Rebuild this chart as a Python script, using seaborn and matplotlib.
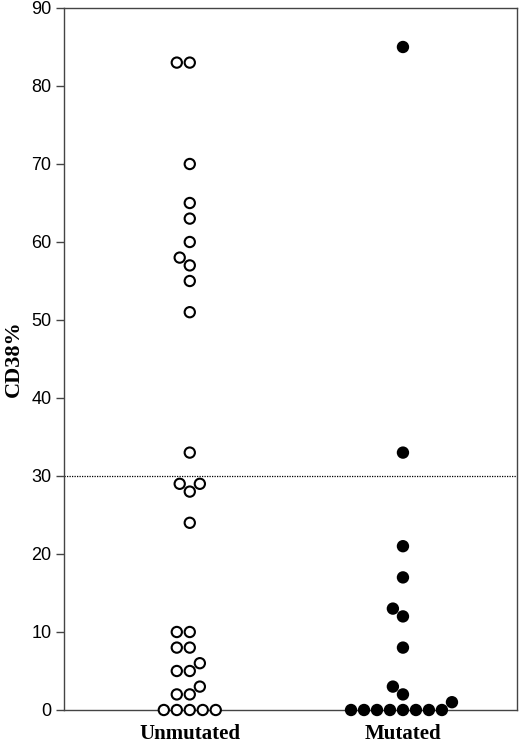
import numpy as np
import pandas as pd
import matplotlib
matplotlib.use("Agg")
import matplotlib.pyplot as plt
import seaborn as sns

# ==========================================
# DATA (CD38% per patient)
# ==========================================

groups = ["Unmutated", "Mutated"]

unmutated = [83, 83, 70, 65, 63, 60, 58, 57, 55, 51,
             33, 29, 29, 28, 24,
             10, 10, 8, 8, 6, 5, 5, 3, 2, 2,
             0, 0, 0, 0, 0]

mutated = [85, 33, 21, 17, 13, 12, 8, 3, 2, 1,
           0, 0, 0, 0, 0, 0, 0, 0]

threshold = 30
y_ticks = list(range(0, 100, 10))

df = pd.DataFrame({
    "group": ["Unmutated"] * len(unmutated) + ["Mutated"] * len(mutated),
    "CD38": unmutated + mutated,
})

# ==========================================
# PLOT
# ==========================================

sns.set_style("ticks")
plt.rcParams["font.family"] = ["Liberation Sans", "DejaVu Sans"]

fig = plt.figure(figsize=(5.2, 7.49), dpi=100)
ax = fig.add_axes([64 / 520, 1 - 710 / 749, (517 - 64) / 520, (710 - 8) / 749])

sns.swarmplot(
    data=df, x="group", y="CD38", hue="group", order=groups,
    palette={"Unmutated": "white", "Mutated": "black"},
    edgecolor="black", linewidth=1.5, size=7.4,
    legend=False, clip_on=False, ax=ax,
)

ax.axhline(threshold, color="black", ls=(0, (1, 1)), lw=0.9, zorder=0)

ax.set_ylim(0, 90)
ax.set_xlim(-0.59, 1.535)
ax.set_yticks(y_ticks)
ax.tick_params(axis="y", direction="out", length=6, width=1,
               color="#444444", labelsize=13, labelcolor="black", pad=3)
ax.tick_params(axis="x", length=0, pad=10, labelcolor="black")

for lab in ax.get_xticklabels():
    lab.set_fontfamily("Liberation Serif")
    lab.set_fontweight("bold")
    lab.set_fontsize(15)

ax.set_xlabel("")
ax.set_ylabel("CD38%", fontfamily="Liberation Serif", fontweight="bold",
              fontsize=16, color="black", labelpad=5)

for side in ["left", "right", "top", "bottom"]:
    ax.spines[side].set_visible(True)
    ax.spines[side].set_color("#444444")
    ax.spines[side].set_linewidth(1)

fig.savefig("out.png", dpi=100)
